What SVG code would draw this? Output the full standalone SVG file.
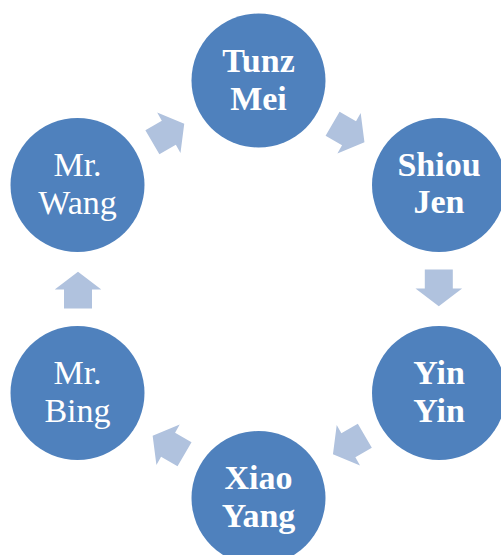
<svg xmlns="http://www.w3.org/2000/svg" width="501" height="555" viewBox="0 0 501 555">
<style>
.node{fill:#4F81BD}
.t{font-family:"Liberation Serif","Times New Roman",serif;font-size:34px;fill:#FFFFFF;text-anchor:middle}
.b{font-weight:bold}
.arr{fill:#B0C2DE}
</style>
<defs>
<path id="arrow" d="M -18.5,-14 L 0.5,-14 L 0.5,-23.3 L 18.3,0 L 0.5,23.3 L 0.5,14 L -18.5,14 Z"/>
</defs>
<rect width="501" height="555" fill="#FFFFFF"/>
<g id="connectors" class="arr">
<use href="#arrow" transform="translate(348.6,133) rotate(30)"/>
<use href="#arrow" transform="translate(438.8,288) rotate(90)"/>
<use href="#arrow" transform="translate(348.8,445) rotate(150)"/>
<use href="#arrow" transform="translate(168.5,445) rotate(210)"/>
<use href="#arrow" transform="translate(78,290) rotate(270)"/>
<use href="#arrow" transform="translate(168.4,133) rotate(330)"/>
</g>
<g id="tunz-mei">
<circle class="node" cx="258.5" cy="80.5" r="67"/>
<text class="t b" x="258.5" y="72">Tunz</text>
<text class="t b" x="258.5" y="110">Mei</text>
</g>
<g id="shiou-jen">
<circle class="node" cx="439" cy="185" r="67"/>
<text class="t b" x="439" y="176">Shiou</text>
<text class="t b" x="439" y="213">Jen</text>
</g>
<g id="yin-yin">
<circle class="node" cx="439" cy="393" r="67"/>
<text class="t b" x="439" y="384">Yin</text>
<text class="t b" x="439" y="422">Yin</text>
</g>
<g id="xiao-yang">
<circle class="node" cx="258.5" cy="498" r="67"/>
<text class="t b" x="258.5" y="489">Xiao</text>
<text class="t b" x="258.5" y="527">Yang</text>
</g>
<g id="mr-bing">
<circle class="node" cx="77.5" cy="393" r="67"/>
<text class="t" x="77.5" y="384">Mr.</text>
<text class="t" x="77.5" y="422">Bing</text>
</g>
<g id="mr-wang">
<circle class="node" cx="77.5" cy="185" r="67"/>
<text class="t" x="77.5" y="176">Mr.</text>
<text class="t" x="77.5" y="214">Wang</text>
</g>
</svg>
